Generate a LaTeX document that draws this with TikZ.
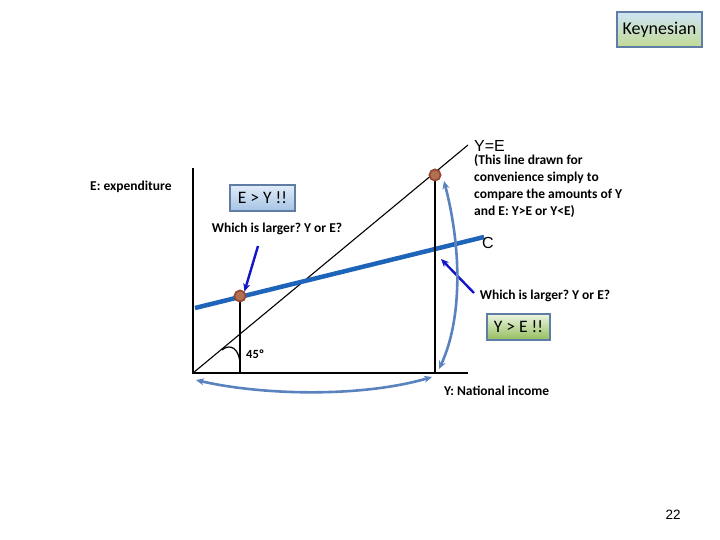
\documentclass[tikz,border=0pt]{standalone}
\usepackage{fontspec}
\setmainfont{Carlito}
\newfontfamily\arialf{Liberation Sans}
\usetikzlibrary{arrows.meta}
\frenchspacing
\definecolor{cblue}{RGB}{30,100,185}
\definecolor{dotred}{RGB}{178,112,82}
\definecolor{dotedge}{RGB}{150,72,52}
\definecolor{steel}{RGB}{90,130,190}
\definecolor{darkb}{RGB}{20,20,200}
\definecolor{boxedge}{RGB}{95,125,165}
\definecolor{bluetop}{RGB}{225,236,248}
\definecolor{bluebot}{RGB}{165,195,228}
\definecolor{greentop}{RGB}{238,246,228}
\definecolor{greenbot}{RGB}{150,190,95}
\definecolor{ktop}{RGB}{205,228,245}
\definecolor{kbot}{RGB}{195,218,150}
\tikzset{
  lbl/.style={font=\fontsize{13.5}{16}\selectfont\bfseries, inner sep=0pt},
  tagbox/.style={draw=boxedge, line width=2pt, inner sep=0pt, minimum width=#1, minimum height=26pt, font=\fontsize{17.5}{20}\selectfont},
  dotmark/.style={circle, fill=dotred, draw=dotedge, line width=1.6pt, minimum size=11pt, inner sep=0pt},
  axisline/.style={line width=1.6pt},
  curvarrow/.style={steel, line width=2.6pt, {Stealth[length=8pt,width=7pt]}-{Stealth[length=8pt,width=7pt]}},
  pointer/.style={darkb, line width=2.4pt, -{Stealth[length=8pt,width=7pt]}}
}
\begin{document}
\begin{tikzpicture}[x=1pt,y=-1pt]
\useasboundingbox (0,0) rectangle (720,540);
% axes
\coordinate (o) at (193,373);
\coordinate (ytop) at (193,168);
\coordinate (xend) at (468,373);
\draw[axisline] (ytop) -- (o) -- (xend);
% 45 line
\coordinate (diagend) at (468,145);
\draw[line width=1.1pt] (o) -- (diagend);
% C line
\coordinate (cstart) at (195,308);
\coordinate (cend) at (484,237);
\draw[cblue, line width=4.5pt] (cstart) -- (cend);
% vertical lines
\node[dotmark] (dtop) at (435,175) {};
\node[dotmark] (dlow) at (240,296) {};
\coordinate (ftop) at (435,373);
\coordinate (flow) at (240,373);
\draw[axisline] (dtop.south) -- (ftop);
\draw[axisline] (dlow.south) -- (flow);
\node[dotmark] at (dtop) {};
\node[dotmark] at (dlow) {};
% 45 angle arc
\coordinate (a1) at (222,350);
\coordinate (a2) at (240,366);
\draw[line width=1.2pt] (a1) .. controls (230,343) and (240,348) .. (a2);
\node[lbl, font=\fontsize{12.5}{14}\selectfont\bfseries, anchor=west] (deg) at (246,354) {45º};
% labels
\node[lbl, anchor=west] (elab) at (90,187) {E: expenditure};
\node[lbl, anchor=west] (ylab) at (444,391) {Y: National income};
\node[lbl, anchor=west, font=\arialf\fontsize{16}{18}\selectfont] (ye) at (474,146) {Y=E};
\node[lbl, anchor=north west, align=left, font=\fontsize{13.5}{17}\selectfont\bfseries] (para) at (474,154) {(This line drawn for\\convenience simply to\\compare the amounts of Y\\and E: Y>E or Y<E)};
\node[lbl, anchor=west, font=\arialf\fontsize{16}{18}\selectfont] (clab) at (482,243) {C};
% boxes
\node[tagbox=65pt, top color=bluetop, bottom color=bluebot] (eybox) at (262.5,198) {E > Y !!};
\node[lbl] (q1) at (277,229) {Which is larger? Y or E?};
\node[tagbox=63pt, top color=greentop, bottom color=greenbot] (yebox) at (518.5,326.5) {Y > E !!};
\node[lbl] (q2) at (545,296) {Which is larger? Y or E?};
\node[tagbox=85pt, minimum height=35pt, top color=ktop, bottom color=kbot, font=\fontsize{18}{20}\selectfont] (key) at (659.5,29.5) {Keynesian};
% pointers
\coordinate (p1s) at (258,246);
\draw[pointer] (p1s) -- (dlow.north east);
\coordinate (p2s) at (474,293);
\coordinate (p2e) at (441,259);
\draw[pointer] (p2s) -- (p2e);
% curved arrows
\coordinate (b1) at (196,380);
\coordinate (b2) at (432,377);
\draw[curvarrow] (b1) .. controls (260,395) and (360,398) .. (b2);
\coordinate (r1) at (444,181);
\coordinate (r2) at (439,369);
\draw[curvarrow] (r1) .. controls (462,250) and (462,320) .. (r2);
% page number
\node[font=\arialf\fontsize{13.5}{15}\selectfont] (pg) at (673,515) {22};
\end{tikzpicture}
\end{document}
